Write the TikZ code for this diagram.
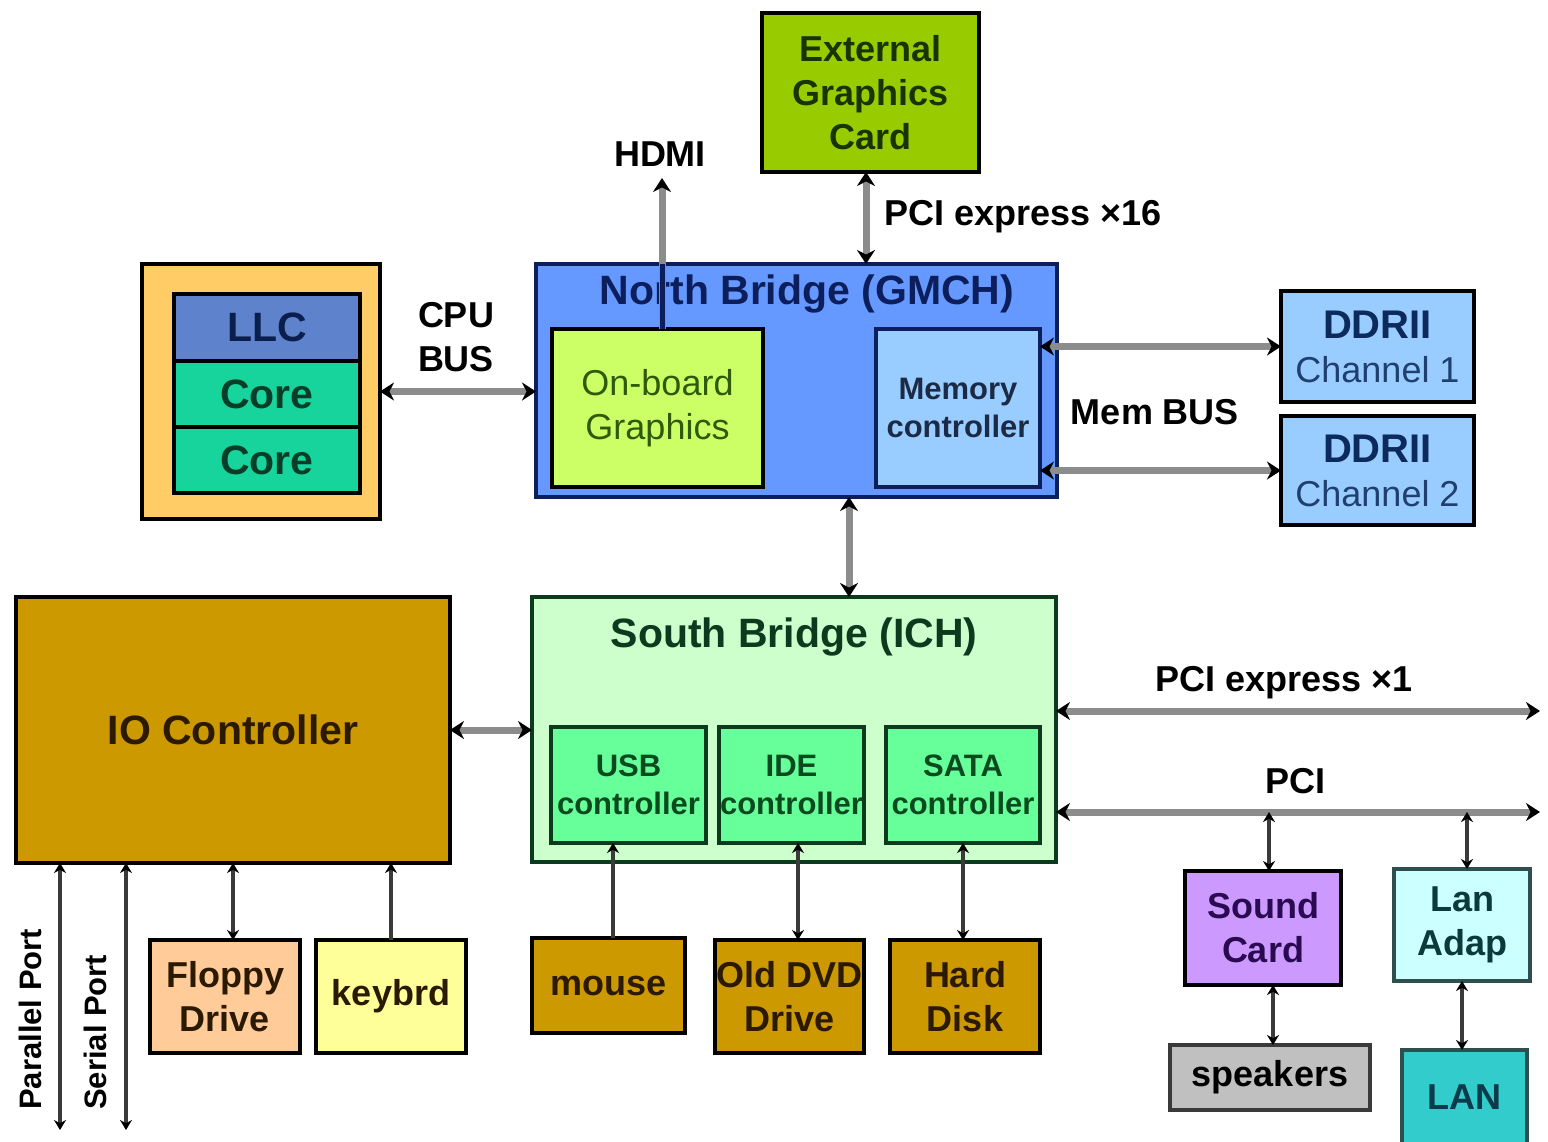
\documentclass[tikz,border=0pt]{standalone}
\usepackage{fontspec}
\setmainfont{Liberation Sans}
\usetikzlibrary{arrows.meta}
\definecolor{cpuC}{HTML}{FFCC66}
\definecolor{llcC}{HTML}{5E82CC}
\definecolor{llcT}{HTML}{0B1F4F}
\definecolor{coreC}{HTML}{17D39C}
\definecolor{coreT}{HTML}{083D28}
\definecolor{nbC}{HTML}{6699FF}
\definecolor{nbT}{HTML}{0C1F5C}
\definecolor{obC}{HTML}{CCFF66}
\definecolor{obT}{HTML}{2E5A0A}
\definecolor{mcC}{HTML}{99CCFF}
\definecolor{mcT}{HTML}{1C2B45}
\definecolor{extC}{HTML}{99CC00}
\definecolor{extT}{HTML}{1A3300}
\definecolor{ddrT}{HTML}{0C2A5C}
\definecolor{chT}{HTML}{1F3F6F}
\definecolor{sbC}{HTML}{CCFFCC}
\definecolor{sbT}{HTML}{0B3A1E}
\definecolor{ctlC}{HTML}{66FF99}
\definecolor{ctlT}{HTML}{0B4A1F}
\definecolor{ioC}{HTML}{CC9900}
\definecolor{ioT}{HTML}{2B1A00}
\definecolor{flC}{HTML}{FFCC99}
\definecolor{kbC}{HTML}{FFFF99}
\definecolor{scC}{HTML}{CC99FF}
\definecolor{scT}{HTML}{2A0A50}
\definecolor{laC}{HTML}{CCFFFF}
\definecolor{laT}{HTML}{0B3A3A}
\definecolor{tealB}{HTML}{2F4F4F}
\definecolor{spC}{HTML}{C0C0C0}
\definecolor{lanC}{HTML}{33CCCC}
\definecolor{lanT}{HTML}{0B3A4A}
\definecolor{busC}{HTML}{8C8C8C}
\definecolor{thinC}{HTML}{3A3A3A}
\newcommand\fsXL{\fontsize{41}{48}\selectfont}
\newcommand\fsL{\fontsize{40}{46}\selectfont}
\newcommand\fsM{\fontsize{36}{44}\selectfont}
\newcommand\fsXS{\fontsize{31}{38}\selectfont}
\tikzset{
  bigtip/.tip={Stealth[length=14pt,width=18pt,color=black]},
  smalltip/.tip={Stealth[length=10pt,width=12pt,color=black]},
  box/.style={draw=black,line width=4.5pt,inner sep=0pt,outer sep=0pt,align=center,font=\bfseries\fsM},
  lbl/.style={align=center,font=\bfseries\fsM,text=black,inner sep=0pt},
  bus/.style={draw=busC,line width=7pt,arrows={bigtip-bigtip}},
  busone/.style={draw=busC,line width=7pt,arrows={-bigtip}},
  wire/.style={draw=thinC,line width=4pt,arrows={smalltip-smalltip}},
  wireone/.style={draw=thinC,line width=4pt,arrows={-smalltip}},
}
\begin{document}
\begin{tikzpicture}[x=1pt,y=-1pt]
\path[use as bounding box] (0,0) rectangle (1548,1141);
\clip (0,0) rectangle (1548,1141);
\fill[white] (0,0) rectangle (1548,1141);

% CPU
\node[box,fill=cpuC,minimum width=238pt,minimum height=255pt] (cpu) at (261,391.5) {};
\node[box,fill=llcC,text=llcT,font=\bfseries\fsXL,minimum width=186pt,minimum height=67pt] (llc) at (267,327.5) {LLC};
\node[box,fill=coreC,text=coreT,font=\bfseries\fsXL,minimum width=186pt,minimum height=66pt] (core1) at (267,394) {Core};
\node[box,fill=coreC,text=coreT,font=\bfseries\fsXL,minimum width=186pt,minimum height=66pt] (core2) at (267,460) {Core};

% North bridge
\node[box,draw=nbT,fill=nbC,minimum width=521pt,minimum height=233pt] (nb) at (796.5,380.5) {};
\node[lbl,text=nbT,font=\bfseries\fsXL] (nbt) at (807,294) {North Bridge (GMCH)};
\node[box,fill=obC,text=obT,font=\fsM,minimum width=211pt,minimum height=158pt] (ob) at (657.5,408) {On-board\\Graphics};
\node[box,draw=nbT,fill=mcC,text=mcT,font=\bfseries\fsXS,minimum width=164pt,minimum height=158pt] (mc) at (958,408) {Memory\\controller};

% External graphics
\node[box,fill=extC,text=extT,minimum width=217pt,minimum height=159pt] (ext) at (870.5,92.5) {External\\Graphics\\Card};

% DDR
\node[box,fill=mcC,text=chT,font=\fsM,minimum width=193pt,minimum height=111pt] (ddr1) at (1377.5,346.5) {{\fsL\bfseries\color{ddrT}DDRII}\\Channel 1};
\node[box,fill=mcC,text=chT,font=\fsM,minimum width=193pt,minimum height=109pt] (ddr2) at (1377.5,470.5) {{\fsL\bfseries\color{ddrT}DDRII}\\Channel 2};

% South bridge
\node[box,draw=sbT,fill=sbC,minimum width=524pt,minimum height=265pt] (sb) at (794,729.5) {};
\node[lbl,text=sbT,font=\bfseries\fsXL] (sbt) at (794,637) {South Bridge (ICH)};
\node[box,draw=sbT,fill=ctlC,text=ctlT,font=\bfseries\fsXS,minimum width=155pt,minimum height=116pt] (usb) at (628.5,785) {USB\\controller};
\node[box,draw=sbT,fill=ctlC,text=ctlT,font=\bfseries\fsXS,minimum width=145pt,minimum height=116pt] (ide) at (791.5,785) {IDE\\controller};
\node[box,draw=sbT,fill=ctlC,text=ctlT,font=\bfseries\fsXS,minimum width=154pt,minimum height=116pt] (sata) at (963,785) {SATA\\controller};

% IO controller
\node[box,fill=ioC,text=ioT,font=\bfseries\fsXL,minimum width=434pt,minimum height=266pt] (io) at (233,730) {IO Controller};

% peripherals
\node[box,fill=flC,text=ioT,minimum width=150pt,minimum height=113pt] (fl) at (225,996.5) {Floppy\\Drive};
\node[box,fill=kbC,text=ioT,minimum width=150pt,minimum height=113pt] (kb) at (391,996.5) {keybrd};
\node[box,fill=ioC,text=ioT,minimum width=153pt,minimum height=95pt] (ms) at (608.5,985.5) {mouse};
\node[box,fill=ioC,text=ioT,minimum width=149pt,minimum height=113pt] (dvd) at (789.5,996.5) {Old DVD\\Drive};
\node[box,fill=ioC,text=ioT,minimum width=150pt,minimum height=113pt] (hdd) at (965,996.5) {Hard\\Disk};
\node[box,fill=scC,text=scT,minimum width=156pt,minimum height=114pt] (sc) at (1263,928) {Sound\\Card};
\node[box,draw=tealB,fill=laC,text=laT,minimum width=136pt,minimum height=112pt] (la) at (1462,925) {Lan\\Adap};
\node[box,draw=thinC,fill=spC,text=black,minimum width=200pt,minimum height=65pt] (spk) at (1270,1077.5) {speakers};
\node[box,draw=tealB,fill=lanC,text=lanT,minimum width=125pt,minimum height=95pt] (lan) at (1464.5,1097.5) {LAN};

% labels
\node[lbl] (cpubus) at (456,337) {CPU\\BUS};
\node[lbl] (hdmi) at (660,154) {HDMI};
\node[lbl,anchor=west] (pcix16) at (884,217) {PCI express ×16};
\node[lbl] (membus) at (1155,412) {Mem BUS};
\node[lbl] (pcix1) at (1284,683) {PCI express ×1};
\node[lbl] (pcil) at (1295,781) {PCI};
\node[lbl,font=\bfseries\fsXS,rotate=90,anchor=west] (ppl) at (30,1110) {Parallel Port};
\node[lbl,font=\bfseries\fsXS,rotate=90,anchor=west] (spl) at (95,1110) {Serial Port};

% free ends
\coordinate (hdmiend) at (662,178);
\coordinate (obtop) at (662,329);
\coordinate (pcie1) at (1540,711);
\coordinate (pci) at (1540,812);
\coordinate (pp) at (60,1130);
\coordinate (sp) at (126,1130);

% buses
\draw[bus] (cpu.east) -- (cpu.east -| nb.west);
\draw[busone] (obtop) -- (hdmiend);
\draw[draw=nbT,line width=5pt] (obtop) -- (obtop |- nb.north);
\draw[bus] ([xshift=-4.5pt]ext.south) -- ([xshift=-4.5pt]ext.south |- nb.north);
\draw[bus] (ddr1.west -| mc.east) -- (ddr1.west);
\draw[bus] (ddr2.west -| mc.east) -- (ddr2.west);
\draw[bus] ([xshift=52.5pt]nb.south) -- ([xshift=52.5pt]nb.south |- sb.north);
\draw[bus] (io.east) -- (io.east -| sb.west);
\draw[bus] (pcie1 -| sb.east) -- (pcie1);
\draw[bus] (pci -| sb.east) -- (pci);

% wires
\draw[wire] (pp |- io.south) -- (pp);
\draw[wire] (sp |- io.south) -- (sp);
\draw[wire] ([xshift=8pt]fl.north |- io.south) -- ([xshift=8pt]fl.north);
\draw[wireone] (kb.north) -- (kb.north |- io.south);
\draw[wireone] ([xshift=4.5pt]ms.north) -- ([xshift=4.5pt]ms.north |- usb.south);
\draw[wire] ([xshift=8.5pt]dvd.north |- ide.south) -- ([xshift=8.5pt]dvd.north);
\draw[wire] ([xshift=-2pt]hdd.north |- sata.south) -- ([xshift=-2pt]hdd.north);
\draw[wire] ([xshift=6pt]sc.north |- pci) -- ([xshift=6pt]sc.north);
\draw[wire] ([xshift=5pt]la.north |- pci) -- ([xshift=5pt]la.north);
\draw[wire] ([xshift=10pt]sc.south) -- ([xshift=10pt]sc.south |- spk.north);
\draw[wire] (la.south) -- (la.south |- lan.north);
\end{tikzpicture}
\end{document}
